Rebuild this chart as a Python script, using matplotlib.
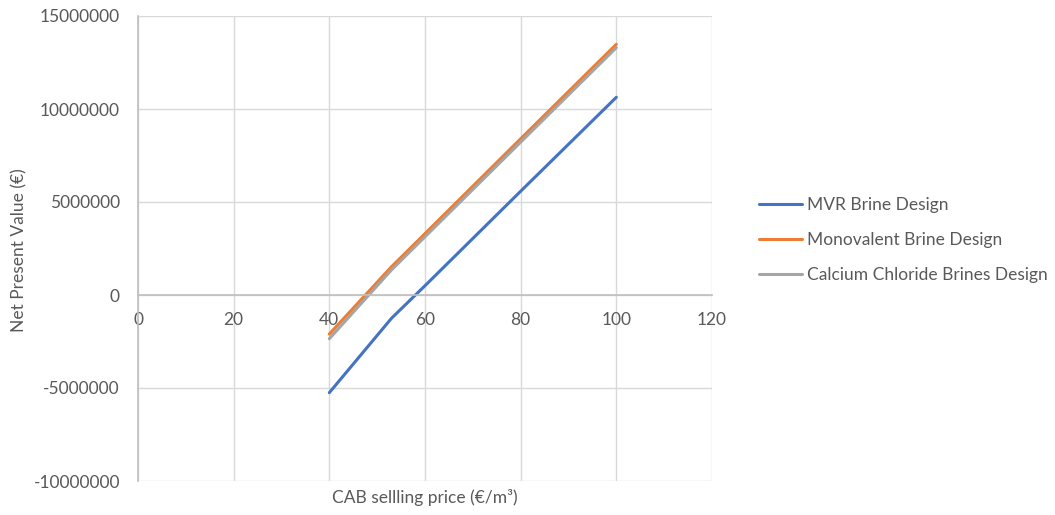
import matplotlib
matplotlib.use("Agg")
import matplotlib.pyplot as plt

price = [40, 53, 60, 80, 100]
mvr = [-5250000, -1250000, 500000, 5580000, 10630000]
monovalent = [-2100000, 1520000, 3300000, 8400000, 13480000]
cacl2 = [-2350000, 1350000, 3130000, 8220000, 13300000]

series_names = ["MVR Brine Design", "Monovalent Brine Design", "Calcium Chloride Brines Design"]
colors = ["#4472C4", "#ED7D31", "#A5A5A5"]

x_ticks = [0, 20, 40, 60, 80, 100, 120]
y_ticks = [-10000000, -5000000, 0, 5000000, 10000000, 15000000]

FS = 12.5
plt.rcParams['font.family'] = ['Lato', 'DejaVu Sans']
fig = plt.figure(figsize=(10.55, 5.15), dpi=100)
ax = fig.add_axes([138/1055, 1-481/515, (712-138)/1055, (481-16)/515])

for vals, name, c in zip([mvr, monovalent, cacl2], series_names, colors):
    ax.plot(price, vals, color=c, lw=2.2, label=name, solid_capstyle='round')

ax.set_xlim(0, 120)
ax.set_ylim(-10000000, 15000000)
ax.set_xticks(x_ticks)
ax.set_yticks(y_ticks)
ax.set_yticklabels([str(v) for v in y_ticks])
ax.set_xticklabels([str(v) for v in x_ticks])
ax.grid(True, color="#D9D9D9", lw=1.0)
ax.set_axisbelow(True)
for s in ['top', 'right']:
    ax.spines[s].set_visible(False)
ax.spines['bottom'].set_position(('data', 0))
ax.spines['bottom'].set_color('#BFBFBF')
ax.spines['left'].set_color('#BFBFBF')
ax.spines['bottom'].set_linewidth(1.2)
ax.spines['left'].set_linewidth(1.2)
ax.tick_params(axis='both', length=0, labelsize=FS, labelcolor='#595959')
ax.tick_params(axis='x', pad=12)
ax.tick_params(axis='y', pad=13)

fig.text(425/1055, 1-497/515, "CAB sellling price (€/m³)", ha='center', va='center', fontsize=FS, color='#595959')
fig.text(19/1055, 1-250/515, "Net Present Value (€)", ha='center', va='center', rotation=90, fontsize=FS, color='#595959')

leg = fig.legend(loc='center left', bbox_to_anchor=(759/1055, 1-240/515), frameon=False,
                 fontsize=FS, handlelength=2.5, handletextpad=0.25, labelspacing=1.08, borderaxespad=0, borderpad=0)
for t in leg.get_texts():
    t.set_color('#595959')

fig.savefig("out.png", dpi=100)
